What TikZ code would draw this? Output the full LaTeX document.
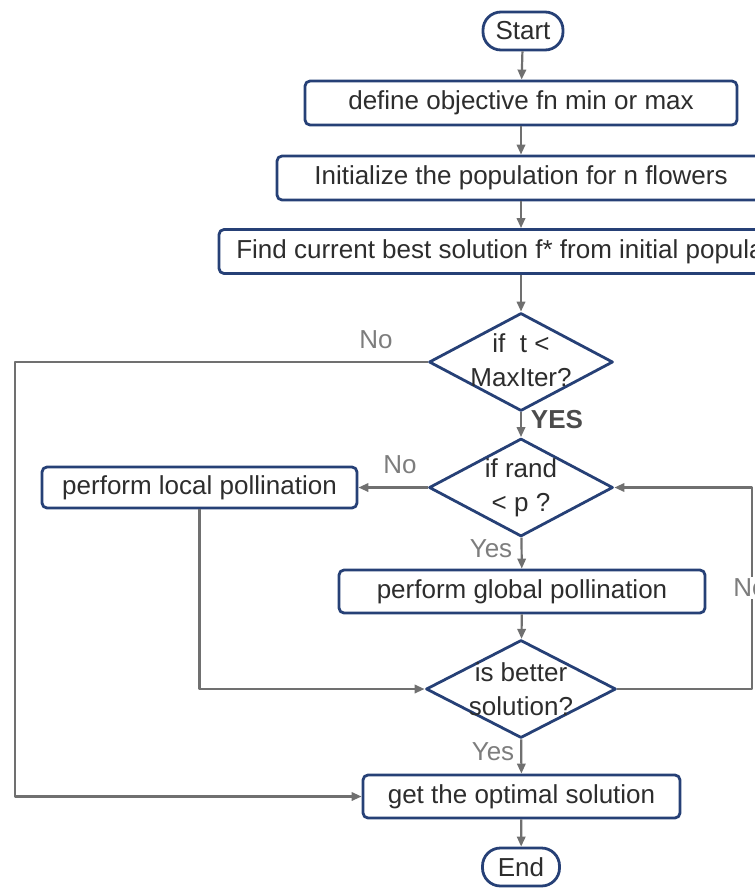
\documentclass[tikz,border=0pt]{standalone}
\usepackage{fontspec}
\setmainfont{Liberation Sans}
\usetikzlibrary{shapes.geometric,arrows.meta}
\definecolor{boxblue}{RGB}{38,64,118}
\definecolor{linegray}{RGB}{112,112,112}
\definecolor{textgray}{RGB}{45,45,45}
\definecolor{labgray}{RGB}{125,125,125}
\tikzset{
	every node/.style={font=\fontsize{13}{17}\selectfont, text=textgray},
	stepbox/.style={draw=boxblue, line width=1.4pt, rounded corners=2.5pt, fill=white, minimum height=22pt, inner sep=0pt},
	termbox/.style={stepbox, rounded corners=9pt, minimum width=40pt, minimum height=19pt},
	decision/.style={diamond, draw=boxblue, line width=1.4pt, fill=white, minimum width=92pt, minimum height=49pt, inner sep=0pt},
	flow/.style={draw=linegray, line width=1.1pt, ->},
	answer/.style={text=labgray}
}
\begin{document}
\begin{tikzpicture}[x=0.5pt, y=-0.5pt, >={Triangle[length=5pt,width=4.2pt]}, line join = round]
	\useasboundingbox (0,0) rectangle (755,889);
	\clip (0,0) rectangle (755,889);
	% boxes
	\node[termbox] (start) at (523,31) {Start};
	\node[stepbox, minimum width=216pt] (objfn) at (521,103) {define objective fn min or max};
	\node[stepbox, minimum width=244pt] (init) at (521,178) {Initialize the population for n flowers};
	\node[stepbox, minimum width=302pt] (best) at (521,251.5) {Find current best solution f* from initial population};
	\node[decision, label={[align=center, yshift=1pt]center:if \ t <\\MaxIter?}] (iter) at (521,362) {};
	\node[decision, label={[align=center]center:if rand\\< p ?}] (rand) at (521,487.5) {};
	\node[stepbox, minimum width=157.5pt, minimum height=20.5pt] (local) at (199.5,487.5) {perform local pollination};
	\node[stepbox, minimum width=183pt, minimum height=21.5pt] (global) at (522,591.5) {perform global pollination};
	\node[decision, minimum width=95pt, label={[align=center]center:is better\\solution?}] (better) at (521,689) {};
	\node[stepbox, minimum width=158.5pt, minimum height=21.5pt] (optimal) at (521.5,796.5) {get the optimal solution};
	\node[termbox, minimum width=38.5pt] (end) at (521,867) {End};
	\coordinate (leftturn) at (15,362);
	\coordinate (rightturn) at (752,689);
	
	% connectors
	\draw[flow] (start) -- (objfn);
	\draw[flow] (objfn) -- (init);
	\draw[flow] (init) -- (best);
	\draw[flow] (best) -- (iter);
	\draw[flow] (iter.west) -- (leftturn) |- (optimal.west);
	\draw[flow] (iter) -- (rand);
	\draw[flow] (rand.west) -- (local.east);
	\draw[flow] (rand) -- (global);
	\draw[flow] (global) -- (better);
	\draw[flow] (local.south) |- (better.west);
	\draw[flow] (better.east) -- (rightturn) |- (rand.east);
	\draw[flow] (better) -- (optimal);
	\draw[flow] (optimal) -- (end);
	
	% labels
	\node[answer] (noiter) at (376,340) {No};
	\node[font=\fontsize{13}{17}\selectfont\bfseries, text=textgray!85] (yesiter) at (557,420) {YES};
	\node[answer] (norand) at (400,465) {No};
	\node[answer] (yesrand) at (491,549) {Yes};
	\node[answer, fill=white, inner sep=1pt] (nobetter) at (750,588) {No};
	\node[answer] (yesbetter) at (493,752) {Yes};
	
\end{tikzpicture}
\end{document}
